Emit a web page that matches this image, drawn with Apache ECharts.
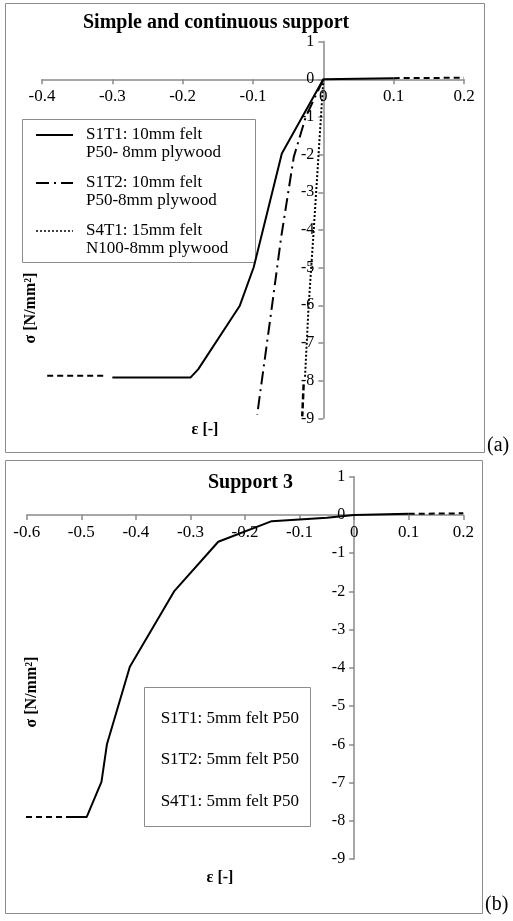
<!DOCTYPE html>
<html>
<head>
<meta charset="utf-8">
<script src="https://cdn.jsdelivr.net/npm/echarts@6/dist/echarts.min.js"></script>
<style>
html,body{margin:0;padding:0;background:#fff;}
#main{width:513px;height:921px;}
</style>
</head>
<body>
<div id="main"></div>
<script>
// (a) simple and continuous support, [strain, stress]
var s1t1A = [[0.1,0.03],[0,0],[-0.059,-1.97],[-0.099,-4.99],[-0.119,-6.02],[-0.178,-7.7],[-0.189,-7.92],[-0.30,-7.92]];
var s1t2A = [[0,0],[-0.025,-1],[-0.042,-2.06],[-0.06,-4.2],[-0.075,-6.3],[-0.094,-8.9]];
var s4t1A = [[0,0],[-0.007,-2.06],[-0.014,-4.1],[-0.021,-6.04],[-0.026,-7.9]];
var extRightA = [[0.1,0.03],[0.2,0.04]];
var extLeftA = [[-0.313,-7.87],[-0.393,-7.87]];
var extS4t1A = [[-0.028,-8.1],[-0.030,-8.95]];
var legendA = ['S1T1: 10mm felt\nP50- 8mm plywood', 'S1T2: 10mm felt\nP50-8mm plywood', 'S4T1: 15mm felt\nN100-8mm plywood'];

// (b) support 3
var s1t1B = [[0.1,0.03],[0,0],[-0.05,-0.07],[-0.151,-0.16],[-0.249,-0.7],[-0.330,-2.0],[-0.411,-3.97],[-0.453,-6.0],[-0.463,-6.98],[-0.490,-7.9],[-0.517,-7.9]];
var extRightB = [[0.1,0.03],[0.2,0.045]];
var extLeftB = [[-0.517,-7.9],[-0.627,-7.9]];
var legendB = ['S1T1: 5mm felt P50', 'S1T2: 5mm felt P50', 'S4T1: 5mm felt P50'];

// axis ranges [min, max, step]
var xRangeA = [-0.4, 0.2, 0.1];
var xRangeB = [-0.6, 0.2, 0.1];
var yRange = [-9, 1, 1];

var serif = '"Liberation Serif", "Times New Roman", serif';
var axisGrey = '#8a8a8a';
var frameGrey = '#8c8c8c';

// grid boxes [left, top, width, height]
var boxA = [42, 41.6, 422, 376.7];
var boxB = [26.7, 476.8, 436.6, 382.2];

// axes cross at zero: shift them there with offset (labels follow)
function zeroX(box, r){ return box[0] + box[2] * (0 - r[0]) / (r[1] - r[0]); }
function zeroY(box, r){ return box[1] + box[3] * (r[1] - 0) / (r[1] - r[0]); }

function xAxisOf(gi, r, box){
	return {
		type: 'value', gridIndex: gi, min: r[0], max: r[1], interval: r[2],
		position: 'bottom', offset: -(box[1] + box[3] - zeroY(box, yRange)),
		axisLine: { onZero: false, lineStyle: { color: axisGrey, width: 1.5 } },
		axisTick: { length: 5, lineStyle: { color: axisGrey, width: 1.5 } },
		axisLabel: { color: '#000', fontFamily: serif, fontSize: 17, margin: 9 },
		splitLine: { show: false }
	};
}
function yAxisOf(gi, r, box, xr){
	return {
		type: 'value', gridIndex: gi, min: r[0], max: r[1], interval: r[2],
		position: 'left', offset: -(zeroX(box, xr) - box[0]),
		axisLine: { show: true, onZero: false, lineStyle: { color: axisGrey, width: 1.5 } },
		axisTick: { show: true, length: 5, lineStyle: { color: axisGrey, width: 1.5 } },
		axisLabel: { color: '#000', fontFamily: serif, fontSize: 16, margin: 9 },
		splitLine: { show: false }
	};
}
function curve(name, gi, data, type, width){
	return {
		name: name, type: 'line', xAxisIndex: gi, yAxisIndex: gi,
		data: data, symbol: 'none', clip: false, silent: true, z: 3,
		lineStyle: { color: '#000', width: width || 2, type: type || 'solid' }
	};
}
function txt(x, y, s, font, align, rot){
	return {
		type: 'text', x: x, y: y, rotation: rot || 0,
		style: { text: s, font: font, fill: '#000', align: align || 'left', verticalAlign: 'middle' }
	};
}
function frame(x, y, w, h){
	return { type: 'rect', shape: { x: x + 0.5, y: y + 0.5, width: w, height: h },
		style: { fill: 'none', stroke: frameGrey, lineWidth: 1 } };
}
function sample(x1, x2, y, dash, w){
	return { type: 'line', shape: { x1: x1, y1: y, x2: x2, y2: y },
		style: { stroke: '#000', lineWidth: w || 2, lineDash: dash || null } };
}

var legFont = '17px ' + serif;
var nameFont = 'bold 16px ' + serif;
var graphics = [
	frame(5, 3, 479, 449),
	frame(5, 460, 477, 453),
	txt(487, 446, '(a)', '20px ' + serif),
	txt(485, 905, '(b)', '20px ' + serif),
	txt(31, 308, 'σ [N/mm²]', nameFont, 'center', Math.PI / 2),
	txt(32, 692, 'σ [N/mm²]', nameFont, 'center', Math.PI / 2),
	txt(205, 430, 'ε [-]', nameFont, 'center'),
	txt(220, 878, 'ε [-]', nameFont, 'center'),
	// legend (a)
	{ type: 'rect', shape: { x: 22.5, y: 119.5, width: 233, height: 143 },
		style: { fill: '#fff', stroke: frameGrey, lineWidth: 1 } },
	sample(36, 73, 135, null, 2),
	sample(36, 73, 183, [13, 5, 2, 5], 2),
	sample(36, 73, 231, [2, 2], 1.5),
	// legend (b)
	{ type: 'rect', shape: { x: 144.5, y: 687.5, width: 166, height: 139 },
		style: { fill: '#fff', stroke: frameGrey, lineWidth: 1 } }
];
var legY = [135, 183, 231];
for (var i = 0; i < legendA.length; i++) {
	var parts = legendA[i].split('\n');
	graphics.push(txt(86, legY[i], parts[0], legFont));
	graphics.push(txt(86, legY[i] + 18, parts[1], legFont));
}
var legYB = [719, 760, 802];
for (var j = 0; j < legendB.length; j++) {
	graphics.push(txt(299, legYB[j], legendB[j], legFont, 'right'));
}

var myChart = echarts.init(document.getElementById('main'), null, { renderer: 'canvas' });
var option = {
	backgroundColor: '#fff',
	animation: false,
	title: [
		{ text: 'Simple and continuous support', left: 78, top: 8,
			textStyle: { fontFamily: serif, fontSize: 20, fontWeight: 'bold', color: '#000' } },
		{ text: 'Support 3', left: 203, top: 468,
			textStyle: { fontFamily: serif, fontSize: 20, fontWeight: 'bold', color: '#000' } }
	],
	grid: [
		{ left: boxA[0], top: boxA[1], width: boxA[2], height: boxA[3], outerBoundsMode: 'none' },
		{ left: boxB[0], top: boxB[1], width: boxB[2], height: boxB[3], outerBoundsMode: 'none' }
	],
	xAxis: [xAxisOf(0, xRangeA, boxA), xAxisOf(1, xRangeB, boxB)],
	yAxis: [yAxisOf(0, yRange, boxA, xRangeA), yAxisOf(1, yRange, boxB, xRangeB)],
	series: [
		curve(legendA[0], 0, s1t1A, 'solid', 2),
		curve(legendA[1], 0, s1t2A, [13, 5, 2, 5], 2),
		curve(legendA[2], 0, s4t1A, [2, 2], 2),
		curve('ext right a', 0, extRightA, [6, 4], 2),
		curve('ext left a', 0, extLeftA, [6, 4], 2),
		curve('ext S4T1 a', 0, extS4t1A, [6, 3], 2.5),
		curve(legendB[0], 1, s1t1B, 'solid', 2),
		curve('ext right b', 1, extRightB, [6, 4], 2),
		curve('ext left b', 1, extLeftB, [6, 4], 2)
	],
	graphic: graphics
};
myChart.setOption(option);
</script>
</body>
</html>
